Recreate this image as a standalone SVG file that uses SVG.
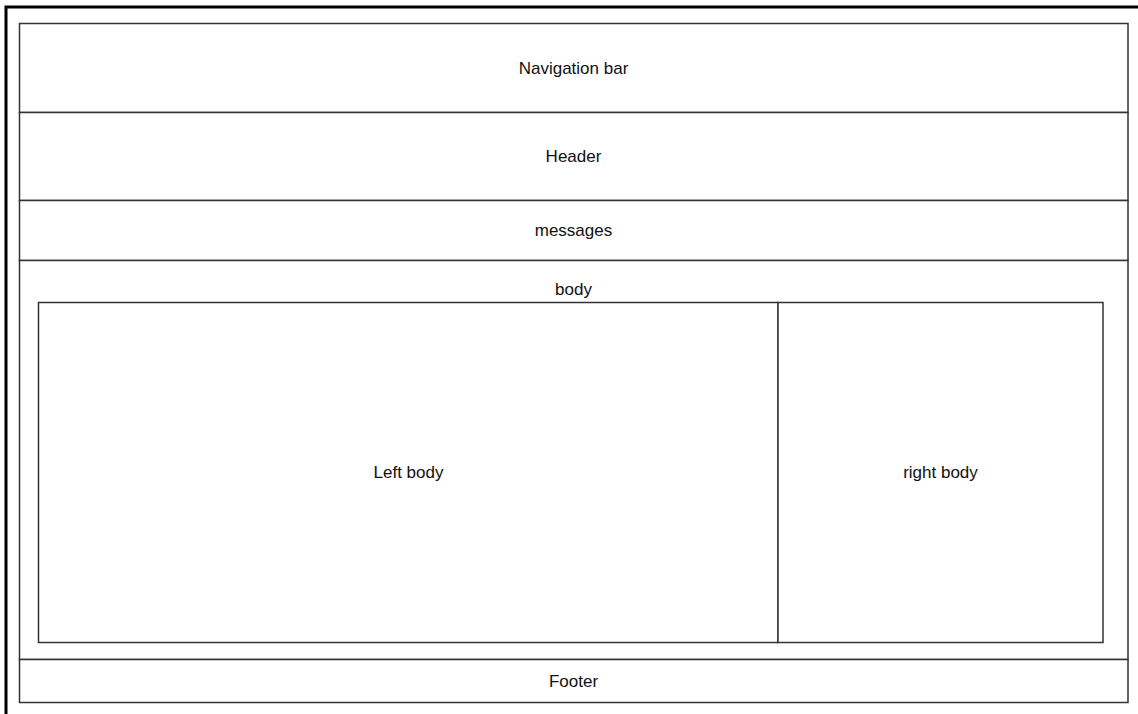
<svg xmlns="http://www.w3.org/2000/svg" width="1138" height="714" viewBox="0 0 1138 714">
<style>
.box{fill:#fff;stroke:#333;stroke-width:1.5}
.t{font-family:"Liberation Sans",Arial,sans-serif;font-size:17px;fill:#111;text-anchor:middle;dominant-baseline:central}
</style>
<rect width="1138" height="714" fill="#fff"/>
<path d="M6,714 V7 H1138" fill="none" stroke="#000" stroke-width="3"/>
<g id="nav"><rect class="box" x="19.5" y="23.5" width="1108.5" height="89"/><text class="t" x="573.5" y="68">Navigation bar</text></g>
<g id="header"><rect class="box" x="19.5" y="112.5" width="1108.5" height="88"/><text class="t" x="573.5" y="156.5">Header</text></g>
<g id="messages"><rect class="box" x="19.5" y="200.5" width="1108.5" height="60"/><text class="t" x="573.5" y="230.5">messages</text></g>
<g id="body"><rect class="box" x="19.5" y="260.5" width="1108.5" height="399"/><text class="t" x="573.5" y="289">body</text></g>
<g id="leftbody"><rect class="box" x="38.5" y="302.5" width="739.5" height="340"/><text class="t" x="408.5" y="472.5">Left body</text></g>
<g id="rightbody"><rect class="box" x="778" y="302.5" width="325" height="340"/><text class="t" x="940.5" y="472.5">right body</text></g>
<g id="footer"><rect class="box" x="19.5" y="659.5" width="1108.5" height="43"/><text class="t" x="573.5" y="681">Footer</text></g>
<g id="connectors"></g>
</svg>
